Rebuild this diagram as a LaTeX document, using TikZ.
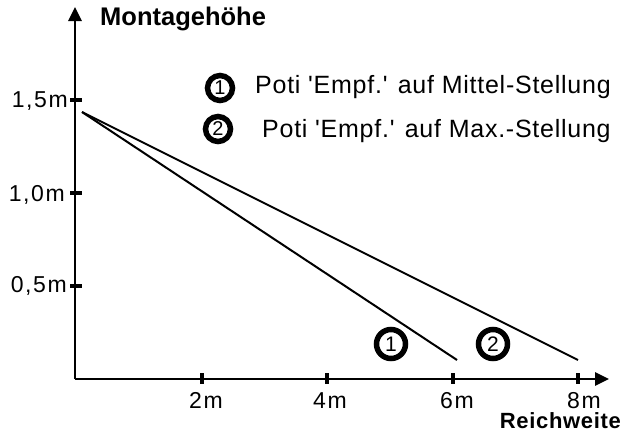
\documentclass[tikz,border=0pt]{standalone}
\usepackage{fontspec}
\newfontfamily\legfont{Liberation Sans}[LetterSpace=3]
\newfontfamily\labfont{Liberation Sans}[LetterSpace=7]
\newfontfamily\ttlfont{Liberation Sans}
\newfontfamily\rwfont{Liberation Sans}[LetterSpace=3]
\newfontfamily\digfont{Liberation Sans}
\usetikzlibrary{arrows.meta}
\begin{document}
\begin{tikzpicture}[x=1pt,y=-1pt,
  axis/.style={line width=2.6pt, -{Triangle[length=14pt,width=13pt]}},
  tickmark/.style={line width=4pt},
  curve/.style={line width=2pt},
  lab/.style={font=\fontsize{23}{26}\labfont, inner sep=0pt},
  legtext/.style={font=\fontsize{25}{29}\legfont, inner sep=0pt},
  ttl/.style={font=\fontsize{25.5}{29}\ttlfont\bfseries, inner sep=0pt},
  ttlsmall/.style={font=\fontsize{22}{25}\rwfont\bfseries, inner sep=0pt},
  num/.style={circle, draw, line width=5.5pt, inner sep=0pt, minimum size=25pt, font=\fontsize{20}{22}\digfont},
  numbig/.style={num, minimum size=29pt, font=\fontsize{21}{23}\digfont}]
\useasboundingbox (0,0) rectangle (623,434);
% axes
\coordinate (O) at (75,379);
\coordinate (Ytop) at (75,7);
\coordinate (Xend) at (609,379);
\draw[axis] (O) -- (Ytop);
\draw[axis] (O) -- (Xend);
% x ticks
\foreach \x in {202,327,453,578}{
  \draw[tickmark] (\x,373) -- (\x,384);
}
% y ticks
\foreach \y in {100,193,286}{
  \draw[tickmark] (70,\y) -- (82,\y);
}
% axis titles
\node[ttl, anchor=base west] (ytitle) at (100,25) {Montagehöhe};
\node[ttlsmall, anchor=base east] (xtitle) at (621,428) {Reichweite};
% y labels
\node[lab, anchor=base east] (y15) at (68,107) {1,5m};
\node[lab, anchor=base east] (y10) at (65,201) {1,0m};
\node[lab, anchor=base east] (y05) at (67,292) {0,5m};
% x labels
\node[lab, anchor=base] (x2) at (206,408) {2m};
\node[lab, anchor=base] (x4) at (330,408) {4m};
\node[lab, anchor=base] (x6) at (457,408) {6m};
\node[lab, anchor=base] (x8) at (584,408) {8m};
% curves
\coordinate (S) at (82,112);
\coordinate (E1) at (457,360);
\coordinate (E2) at (578,360);
\draw[curve] (S) -- (E1);
\draw[curve] (S) -- (E2);
\node[numbig] (c1) at (391,344) {1};
\node[numbig] (c2) at (493,344) {2};
% legend
\node[num] (l1) at (220,88) {1};
\node[num] (l2) at (218,129) {2};
\node[legtext, anchor=base west] (t1) at (255,93) {Poti 'Empf.' auf Mittel-Stellung};
\node[legtext, anchor=base west] (t2) at (262,137) {Poti 'Empf.' auf Max.-Stellung};
\end{tikzpicture}
\end{document}
